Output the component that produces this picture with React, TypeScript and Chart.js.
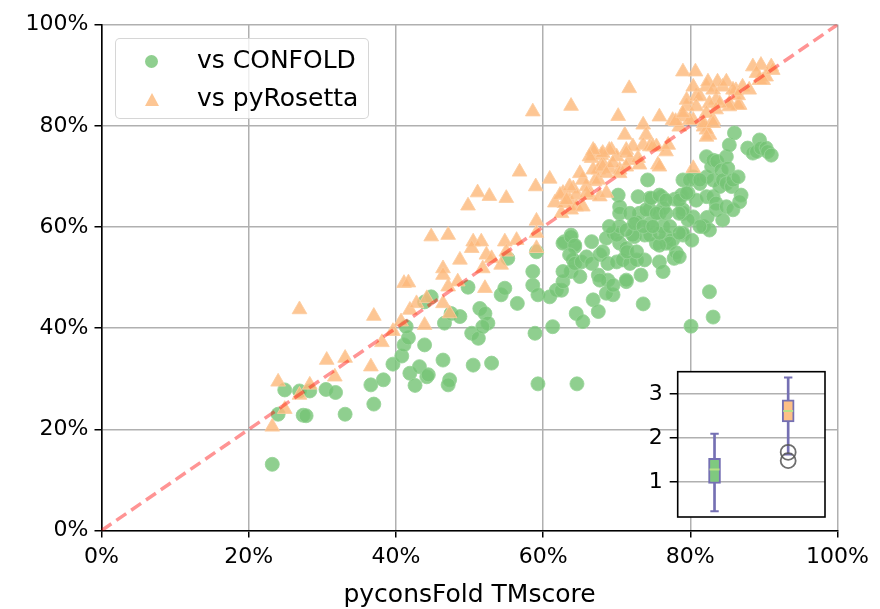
import React, { useEffect, useRef } from 'react';
import { Chart, registerables } from 'chart.js';

Chart.register(...registerables);

// ---------- data (percent values) ----------
const confoldPoints: [number, number][] = [
  [23.2, 13.1], [24.0, 23.0], [24.9, 27.8], [26.9, 27.6], [27.4, 22.8], [27.8, 22.7], [28.3, 27.6],
  [30.5, 27.9], [31.8, 27.3], [33.1, 23.0], [36.6, 28.8], [37.0, 25.0], [38.3, 29.8], [39.6, 32.9],
  [40.8, 34.5], [41.1, 36.7], [41.7, 38.1], [41.4, 40.3], [41.9, 31.1], [42.6, 28.7], [43.2, 32.4],
  [43.9, 36.7], [44.2, 30.4], [43.9, 45.2], [44.8, 46.2], [44.4, 30.8], [46.4, 33.7], [47.3, 29.8],
  [47.1, 28.8], [46.6, 41.0], [47.5, 42.9], [48.7, 42.3], [49.8, 48.1], [50.5, 32.7], [50.3, 39.0],
  [51.2, 38.0], [51.4, 43.9], [52.1, 42.9], [52.5, 41.0], [51.8, 40.3], [53.0, 33.1], [54.3, 46.6],
  [54.8, 47.9], [55.2, 53.8], [56.5, 44.9], [58.6, 51.2], [58.6, 48.5], [58.9, 39.0], [59.3, 29.0],
  [59.1, 55.1], [59.3, 46.6], [60.9, 46.2], [61.3, 40.3], [61.8, 47.5], [62.5, 47.5], [62.7, 49.2],
  [62.9, 57.1], [63.8, 58.4], [64.3, 56.1], [64.1, 53.5], [63.8, 51.2], [64.5, 42.9], [64.6, 29.0],
  [65.4, 41.3], [66.8, 45.6], [67.5, 43.3], [69.5, 46.6], [68.6, 46.9], [71.3, 49.2], [73.6, 44.8],
  [80.1, 40.4], [82.6, 47.2], [83.1, 42.2],
  [62.7, 56.8], [63.8, 58.1], [64.3, 56.4], [66.6, 57.1], [68.6, 57.8], [69.5, 58.8], [70.4, 56.8],
  [71.3, 55.8], [72.4, 58.1], [73.8, 58.4], [75.4, 56.8], [76.7, 56.8], [77.6, 57.4], [79.0, 58.4],
  [63.6, 54.5], [64.3, 52.8], [65.2, 53.1], [65.9, 54.1], [66.6, 52.8], [67.7, 54.5], [68.1, 55.1],
  [68.8, 52.8], [70.0, 53.1], [70.8, 53.5], [71.8, 52.8], [72.7, 53.5], [73.8, 53.5], [75.8, 53.1],
  [77.8, 53.8], [62.7, 51.2], [65.0, 50.2], [67.5, 50.5], [68.8, 49.5], [69.5, 48.5], [71.3, 49.5],
  [73.3, 50.5], [76.3, 51.2], [67.7, 49.5], [70.0, 58.4], [72.2, 58.4], [74.5, 58.4], [76.7, 58.1],
  [77.2, 56.8], [75.8, 56.4], [71.4, 55.1], [72.7, 55.1], [78.1, 54.9], [78.5, 54.1],
  [70.2, 66.3], [70.4, 64.0], [70.4, 62.7], [70.4, 60.1], [72.9, 66.0], [73.1, 62.7], [72.7, 61.0],
  [69.0, 60.1], [74.2, 69.3], [74.5, 65.7], [74.5, 63.4], [74.5, 60.7], [76.1, 66.0], [75.8, 62.7],
  [76.3, 60.1], [76.3, 63.7], [75.8, 58.8], [77.9, 65.5], [78.8, 66.3], [79.0, 69.3], [79.0, 62.7],
  [79.0, 58.8], [79.7, 66.7], [80.4, 69.9], [80.4, 62.0], [80.2, 57.4], [80.8, 65.3], [81.3, 68.6],
  [81.8, 60.1], [82.2, 69.9], [82.2, 66.0], [82.2, 73.9], [82.3, 61.9], [82.6, 59.4], [82.9, 71.9],
  [83.1, 69.3], [83.1, 73.2], [83.1, 66.0], [83.6, 73.0], [83.5, 64.7], [83.5, 63.4], [84.0, 68.0],
  [84.2, 71.2], [84.4, 61.4], [84.4, 69.3], [84.9, 73.9], [84.9, 68.6], [84.9, 64.0], [85.1, 71.6],
  [85.3, 76.2], [85.6, 68.0], [85.8, 69.3], [85.8, 63.4], [86.0, 78.6], [86.5, 69.9], [86.9, 66.3],
  [86.7, 65.0], [87.8, 75.6], [88.5, 74.6], [89.0, 74.9], [89.4, 77.2], [89.6, 75.6], [90.3, 75.6],
  [90.5, 74.9], [91.0, 74.2], [81.3, 60.1], [79.7, 61.4], [79.0, 63.4], [78.5, 65.3], [79.9, 69.3],
  [81.3, 69.3], [71.8, 62.7], [74.0, 63.4], [75.4, 62.7], [76.7, 62.7], [78.5, 62.7], [71.3, 59.4],
  [72.4, 60.7], [73.6, 60.1], [74.9, 60.1], [77.2, 60.1], [78.5, 58.8], [74.7, 65.7], [75.8, 66.3],
  [76.7, 65.3], [79.5, 66.7],
];

const rosettaPoints: [number, number][] = [
  [23.2, 20.5], [24.0, 29.4], [24.9, 24.0], [26.9, 43.7], [26.9, 26.8], [28.3, 28.8], [30.6, 33.7],
  [31.7, 30.4], [33.1, 34.1], [36.6, 32.4], [37.0, 42.4], [38.1, 37.2], [39.6, 39.4], [40.7, 41.3],
  [41.1, 48.9], [41.7, 49.0], [41.9, 43.6], [42.8, 44.9], [43.9, 40.6], [44.2, 45.9], [44.8, 58.1],
  [47.1, 58.4], [46.4, 51.8], [46.4, 50.5], [46.4, 44.9], [47.1, 48.2], [48.4, 49.2], [48.7, 53.5],
  [47.3, 42.9], [49.8, 64.2], [51.1, 66.8], [52.7, 66.1], [55.0, 65.7], [50.5, 57.1], [50.3, 55.8],
  [51.6, 57.1], [51.8, 51.8], [52.1, 47.9], [52.3, 54.5], [53.0, 53.8], [54.3, 52.5], [54.8, 57.1],
  [56.4, 57.4], [55.0, 55.1], [56.8, 70.9], [58.6, 82.8], [59.0, 68.0], [59.1, 61.2], [59.1, 55.8],
  [59.1, 58.8], [60.9, 69.5], [61.6, 64.8], [62.7, 66.7], [63.6, 65.3], [62.5, 62.7], [63.8, 63.4],
  [62.3, 66.3], [62.9, 64.7], [64.1, 67.6], [64.5, 66.3], [63.8, 83.9], [65.9, 68.0], [67.0, 69.0],
  [66.3, 66.3], [67.7, 66.0], [68.6, 66.7], [65.4, 69.3], [67.0, 74.9], [66.6, 73.6], [67.9, 74.2],
  [69.3, 75.2], [70.0, 73.9], [68.1, 72.6], [69.0, 71.6], [67.5, 71.3], [71.3, 75.2], [71.8, 73.2],
  [71.1, 78.2], [70.2, 81.9], [71.7, 87.4], [73.6, 80.2], [74.0, 78.2], [73.6, 76.2], [73.1, 72.3],
  [74.5, 75.9], [75.4, 75.9], [75.8, 81.8], [76.7, 74.9], [77.0, 76.2], [77.6, 81.1], [78.5, 79.8],
  [79.0, 81.8], [79.5, 83.8], [79.5, 85.1], [75.6, 72.3], [72.9, 73.6], [70.4, 71.3], [78.0, 80.9],
  [80.4, 81.1], [81.8, 79.8], [83.1, 81.1], [80.8, 85.8], [82.2, 87.7], [84.4, 87.7], [86.2, 87.0],
  [83.5, 85.1], [86.7, 84.1], [85.3, 84.4], [89.4, 89.0], [80.4, 71.6], [82.6, 78.2], [82.2, 79.2],
  [72.2, 75.9], [74.9, 75.9], [75.8, 71.9], [71.3, 74.6], [69.0, 75.2], [68.1, 74.6], [66.8, 75.2],
  [66.3, 73.9], [66.8, 71.3], [68.1, 71.9], [69.5, 72.6], [67.5, 69.3], [68.6, 70.6], [70.4, 70.6],
  [71.3, 71.9], [65.0, 70.6], [63.6, 68.0], [63.2, 65.3], [64.5, 64.0], [65.4, 64.0], [65.9, 66.7],
  [79.0, 90.7], [80.7, 90.7], [88.5, 91.7], [89.6, 92.0], [91.0, 91.7], [89.0, 90.4], [90.3, 89.7],
  [91.2, 91.0], [89.9, 89.0], [82.4, 88.7], [83.7, 88.7], [84.9, 88.7], [83.1, 87.1], [85.8, 87.1],
  [87.1, 87.7], [88.0, 87.1], [86.5, 84.1], [85.3, 83.8], [84.0, 84.4], [82.6, 84.4], [81.3, 85.8],
  [80.8, 83.8], [82.2, 82.5], [83.5, 83.2], [81.8, 80.5], [83.1, 80.5], [79.9, 81.1], [79.0, 82.5],
  [80.4, 87.7], [86.5, 86.0], [82.2, 77.8],
];

const diagonal: [number, number][] = [[0, 0], [100, 100]];

const axisTicks = [0, 20, 40, 60, 80, 100];

// inset box plot (ratio values)
const boxCategories = ['vs CONFOLD', 'vs pyRosetta'];
const boxWhiskerLow = [0.34, 1.63];
const boxQ1 = [0.97, 2.37];
const boxMedian = [1.29, 2.62];
const boxQ3 = [1.54, 2.87];
const boxWhiskerHigh = [2.1, 3.38];
const boxOutliers: [number, number][] = [[1, 1.68], [1, 1.49]]; // [category index, value]
const insetTicks = [1, 2, 3];

// ---------- styles ----------
const FONT = "'DejaVu Sans', sans-serif";
const GREEN = 'rgba(118,197,118,0.82)';
const GREEN_EDGE = 'rgba(150,212,150,0.85)';
const ORANGE = 'rgba(253,186,124,0.82)';
const ORANGE_EDGE = 'rgba(253,204,160,0.85)';
const BOX_EDGE = '#7570b3';
const GRID = '#b0b0b0';

export default function App() {
  const mainRef = useRef<HTMLCanvasElement>(null);
  const insetRef = useRef<HTMLCanvasElement>(null);

  useEffect(() => {
    const mainCtx = mainRef.current!.getContext('2d')!;
    const main = new Chart(mainCtx, {
      type: 'scatter',
      data: {
        datasets: [
          {
            label: 'vs CONFOLD',
            data: confoldPoints.map(([x, y]) => ({ x, y })),
            pointStyle: 'circle',
            pointRadius: 7,
            backgroundColor: GREEN,
            borderColor: GREEN_EDGE,
            borderWidth: 1,
            order: 3,
          },
          {
            label: 'vs pyRosetta',
            data: rosettaPoints.map(([x, y]) => ({ x, y })),
            pointStyle: 'triangle',
            pointRadius: 8.5,
            backgroundColor: ORANGE,
            borderColor: ORANGE_EDGE,
            borderWidth: 1,
            order: 2,
          },
          {
            type: 'line',
            label: 'diag',
            data: diagonal.map(([x, y]) => ({ x, y })),
            borderColor: 'rgba(255,0,0,0.42)',
            borderWidth: 3.5,
            borderDash: [12, 6],
            pointRadius: 0,
            showLine: true,
            order: 1,
          } as any,
        ],
      },
      options: {
        animation: false,
        responsive: false,
        layout: { padding: { left: 0, right: 42.5, top: 24.6, bottom: 0 } },
        plugins: { legend: { display: false }, tooltip: { enabled: false } },
        scales: {
          x: {
            type: 'linear',
            min: 0,
            max: 100,
            afterBuildTicks: (s: any) => { s.ticks = axisTicks.map((v) => ({ value: v })); },
            ticks: {
              callback: (v: any) => `${v}%`,
              font: { family: FONT, size: 22 },
              color: '#000',
              padding: 6,
              maxRotation: 0,
            },
            grid: { color: GRID, lineWidth: 1.5, tickColor: '#000', tickLength: 7, tickWidth: 1.5 } as any,
            border: { color: '#000', width: 1.6 },
            title: {
              display: true,
              text: 'pyconsFold TMscore',
              font: { family: FONT, size: 25, lineHeight: 1.1 },
              color: '#000',
              padding: { top: 0, bottom: 0 },
            },
            afterFit: (s: any) => { s.height = 609 - 530.6; },
          },
          y: {
            type: 'linear',
            min: 0,
            max: 100,
            afterBuildTicks: (s: any) => { s.ticks = axisTicks.map((v) => ({ value: v })); },
            ticks: {
              callback: (v: any) => `${v}%`,
              font: { family: FONT, size: 22 },
              color: '#000',
              padding: 6,
            },
            grid: { color: GRID, lineWidth: 1.5, tickColor: '#000', tickLength: 7, tickWidth: 1.5 } as any,
            border: { color: '#000', width: 1.6 },
            afterFit: (s: any) => { s.width = 101.5; },
          },
        },
      },
    });

    const insetFrame = {
      id: 'insetFrame',
      beforeDraw: (chart: any) => {
        const { ctx, chartArea: a } = chart;
        ctx.save();
        ctx.fillStyle = '#ffffff';
        ctx.fillRect(a.left, a.top, a.right - a.left, a.bottom - a.top);
        ctx.restore();
      },
      afterDraw: (chart: any) => {
        const { ctx, chartArea: a } = chart;
        ctx.save();
        ctx.strokeStyle = '#000';
        ctx.lineWidth = 1.6;
        ctx.strokeRect(a.left, a.top, a.right - a.left, a.bottom - a.top);
        ctx.restore();
      },
    };

    // inset canvas: placed at (560, 330), 280 x 212 -> plot area about (677.7, 371.7)-(825, 517)
    const insetCtx = insetRef.current!.getContext('2d')!;
    const inset = new Chart(insetCtx, {
      type: 'bar',
      data: {
        labels: boxCategories,
        datasets: [
          {
            label: 'whisker',
            data: boxCategories.map((_, i) => [boxWhiskerLow[i], boxWhiskerHigh[i]]),
            backgroundColor: BOX_EDGE,
            borderWidth: 0,
            barThickness: 2,
            grouped: false,
            order: 6,
          } as any,
          {
            label: 'box',
            data: boxCategories.map((_, i) => [boxQ1[i], boxQ3[i]]),
            backgroundColor: ['#7fc97f', '#fdc086'],
            borderColor: BOX_EDGE,
            borderWidth: 2,
            borderSkipped: false,
            barThickness: 12,
            grouped: false,
            order: 5,
          } as any,
          {
            type: 'line',
            label: 'capLow',
            data: boxWhiskerLow,
            showLine: false,
            pointStyle: 'line',
            pointRadius: 4.2,
            pointBorderColor: BOX_EDGE,
            pointBorderWidth: 2,
            order: 4,
          } as any,
          {
            type: 'line',
            label: 'capHigh',
            data: boxWhiskerHigh,
            showLine: false,
            pointStyle: 'line',
            pointRadius: 4.2,
            pointBorderColor: BOX_EDGE,
            pointBorderWidth: 2,
            order: 4,
          } as any,
          {
            type: 'line',
            label: 'median',
            data: boxMedian,
            showLine: false,
            pointStyle: 'line',
            pointRadius: 5,
            pointBorderColor: '#b8e186',
            pointBorderWidth: 2,
            order: 3,
          } as any,
          {
            type: 'line',
            label: 'outliers',
            data: boxOutliers.map(([c, v]) => ({ x: boxCategories[c], y: v })),
            showLine: false,
            pointStyle: 'circle',
            pointRadius: 7.5,
            pointBackgroundColor: 'rgba(0,0,0,0)',
            pointBorderColor: 'rgba(85,85,85,0.85)',
            pointBorderWidth: 1.8,
            order: 2,
          } as any,
        ],
      },
      options: {
        animation: false,
        responsive: false,
        layout: { padding: { left: 0, right: 15, top: 41.7, bottom: 0 } },
        plugins: { legend: { display: false }, tooltip: { enabled: false } },
        scales: {
          x: {
            type: 'category',
            offset: true,
            ticks: { display: false },
            grid: { display: false },
            border: { display: false },
            afterFit: (s: any) => { s.height = 25; },
          },
          y: {
            type: 'linear',
            min: 0.21,
            max: 3.51,
            afterBuildTicks: (s: any) => { s.ticks = insetTicks.map((v) => ({ value: v })); },
            ticks: { font: { family: FONT, size: 22 }, color: '#000', padding: 7 },
            grid: { color: GRID, lineWidth: 1.5, tickColor: '#000', tickLength: 8, tickWidth: 1.5 } as any,
            border: { display: false },
            afterFit: (s: any) => { s.width = 117.7; },
          },
        },
      },
      plugins: [insetFrame],
    });

    return () => {
      main.destroy();
      inset.destroy();
    };
  }, []);

  const legendText: React.CSSProperties = {
    position: 'absolute',
    left: 81,
    fontFamily: FONT,
    fontSize: 25,
    lineHeight: '30px',
    color: '#000',
    whiteSpace: 'nowrap',
  };

  return (
    <div style={{ position: 'absolute', left: 0, top: 0, width: 880, height: 609, background: '#fff' }}>
      <canvas ref={mainRef} width={880} height={609} style={{ position: 'absolute', left: 0, top: 0, width: 880, height: 609 }} />
      <div
        style={{
          position: 'absolute',
          left: 115,
          top: 38,
          width: 254,
          height: 81,
          border: '1.5px solid rgba(204,204,204,0.8)',
          borderRadius: 5,
          background: 'rgba(255,255,255,0.8)',
          boxSizing: 'border-box',
        }}
      >
        <div style={{ position: 'absolute', left: 29, top: 16, width: 13, height: 13, borderRadius: '50%', background: GREEN }} />
        <div
          style={{
            position: 'absolute',
            left: 28.5,
            top: 54,
            width: 0,
            height: 0,
            borderLeft: '7.5px solid transparent',
            borderRight: '7.5px solid transparent',
            borderBottom: '13px solid ' + ORANGE,
          }}
        />
        <span style={{ ...legendText, top: 6 }}>vs CONFOLD</span>
        <span style={{ ...legendText, top: 44 }}>vs pyRosetta</span>
      </div>
      <canvas ref={insetRef} width={280} height={212} style={{ position: 'absolute', left: 560, top: 330, width: 280, height: 212 }} />
    </div>
  );
}
